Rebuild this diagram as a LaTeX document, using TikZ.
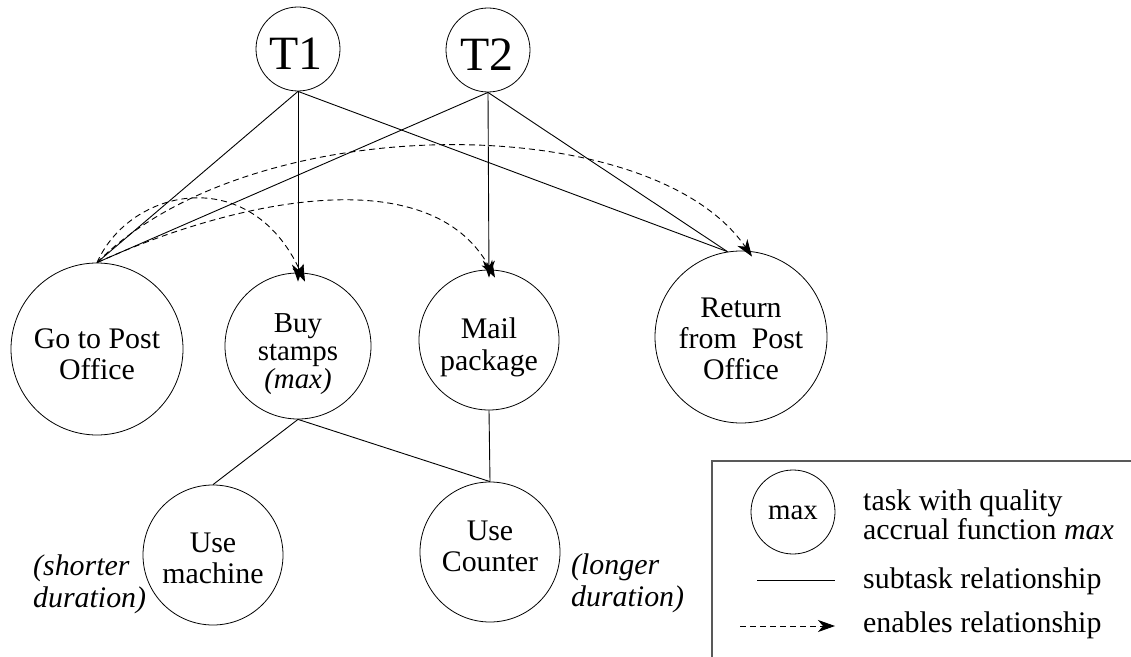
\documentclass[tikz,border=0pt]{standalone}
\usepackage{fontspec}
\setmainfont{Liberation Serif}
\usetikzlibrary{arrows.meta,calc}
\begin{document}
\begin{tikzpicture}[x=1bp,y=-1bp,
  task/.style={draw, circle, line width=0.8bp, inner sep=0pt},
  txt/.style={align=center, inner sep=0pt, font=\fontsize{30}{31}\selectfont},
  ttxt/.style={inner sep=0pt, font=\fontsize{48}{50}\selectfont},
  note/.style={align=left, inner sep=0pt, font=\fontsize{30}{32}\selectfont\itshape},
  ltxt/.style={inner sep=0pt, font=\fontsize{30}{32}\selectfont},
  sub/.style={line width=0.9bp},
  tip/.style={-{Stealth[length=17bp,width=12bp,inset=5bp]}},
  enab/.style={line width=0.9bp, dash pattern=on 6bp off 4bp, tip},
  legbox/.style={draw=black!65, line width=1.4bp}]
\useasboundingbox (0,0) rectangle (1131,657);

% top-level tasks
\node[task, minimum size=84bp] (t1) at (298,49) {};
\node[ttxt, anchor=base] (t1t) at (296,70) {T1};
\node[task, minimum size=84bp] (t2) at (488,50) {};
\node[ttxt, anchor=base] (t2t) at (487,71) {T2};

% subtasks
\node[task, minimum size=172bp] (go) at (97,349) {};
\node[txt] (got) at (97,354) {Go to Post\\Office};
\node[task, minimum size=146bp] (buy) at (298,346) {};
\node[txt, font=\fontsize{29}{28}\selectfont] (buyt) at (298,354) {Buy\\stamps\\\textit{(max)}};
\node[task, minimum size=140bp] (mail) at (489,340) {};
\node[txt, font=\fontsize{30}{32}\selectfont] (mailt) at (489,347) {Mail\\package};
\node[task, minimum size=172bp] (ret) at (741,337) {};
\node[txt] (rett) at (741,339) {Return\\from\enspace Post\\Office};

% methods
\node[task, minimum size=140bp] (mach) at (213,555) {};
\node[txt] (macht) at (213,558) {Use\\machine};
\node[task, minimum size=140bp] (ctr) at (490,552) {};
\node[txt] (ctrt) at (490,546) {Use\\Counter};
\node[note, anchor=west] (shortn) at (33,584) {(shorter\\duration)};
\node[note, anchor=west] (longn) at (571,583) {(longer\\duration)};

% subtask relationships
\draw[sub] (t1.south) -- (go.north);
\draw[sub] (t2.south) -- (go.north);
\draw[sub] (t1.south) -- (ret.99);
\draw[sub] (t2.south) -- (ret.99);
\draw[sub, tip] (t1.south) -- ([yshift=-9bp]buy.north);
\draw[sub, tip] (t2.south) -- ([yshift=-8bp]mail.north);
\draw[sub] (buy.south) -- (mach.north);
\draw[sub] (buy.south) -- (ctr.north);
\draw[sub] (mail.south) -- (ctr.north);

% enables relationships
\draw[enab] (go.north) .. controls (130,188) and (250,162) .. ([xshift=7bp,yshift=-9bp]buy.north);
\draw[enab] (go.north) .. controls (235,200) and (430,158) .. ([xshift=6bp,yshift=-8bp]mail.north);
\draw[enab] (go.north) .. controls (250,108) and (650,108) .. ([xshift=11bp,yshift=-6bp]ret.north);

% legend
\draw[legbox] (712,657) -- (712,461) -- (1131,461);
\node[task, minimum size=84bp] (lg) at (793,512) {};
\node[inner sep=0pt, anchor=base, font=\fontsize{29}{30}\selectfont] (lgt) at (793,519) {max};
\node[ltxt, align=left, anchor=west, font=\fontsize{30}{25}\selectfont] (lg1) at (863,515) {task with quality\\accrual function \textit{max}};
\coordinate (s0) at (757,580);
\coordinate (s1) at (835,580);
\draw[sub] (s0) -- (s1);
\node[ltxt, anchor=base west] (lg2) at (863,588) {subtask relationship};
\coordinate (e0) at (740,626);
\coordinate (e1) at (835,626);
\draw[enab] (e0) -- (e1);
\node[ltxt, anchor=base west] (lg3) at (863,632) {enables relationship};
\end{tikzpicture}
\end{document}
